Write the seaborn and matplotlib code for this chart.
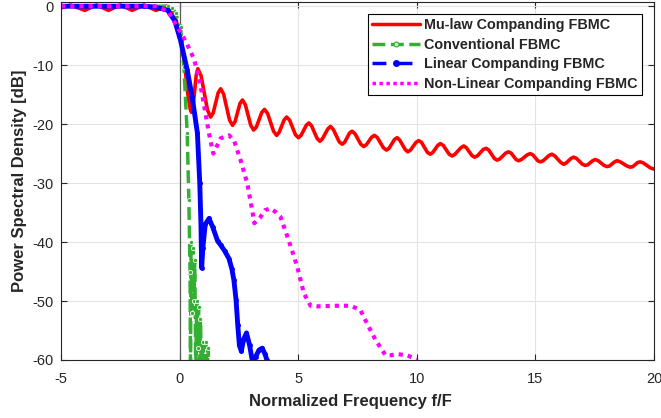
import numpy as np
import pandas as pd
import matplotlib
matplotlib.use("Agg")
import matplotlib.pyplot as plt
from matplotlib.lines import Line2D
import seaborn as sns

# Mu-law companding FBMC: passband ripple, roll-off, then sidelobes
# (peaks, troughs and the shoulder points read between them)
mulaw_f = [-5.0, -4.6, -4.0, -3.5, -3.0, -2.5, -2.0, -1.5, -1.0, -0.5, -0.25, 0.0, 0.2, 0.35, 0.45,
           0.5, 0.57, 0.70, 0.77, 0.905, 1.175, 1.31, 1.415, 1.625, 1.73, 1.855, 2.105, 2.23, 2.335, 2.545,
           2.65, 2.77, 3.00, 3.12, 3.235, 3.465, 3.58, 3.71, 3.96, 4.09, 4.195, 4.405, 4.51, 4.635, 4.885,
           5.01, 5.12, 5.34, 5.45, 5.565, 5.795, 5.91, 6.02, 6.25, 6.36, 6.48, 6.73, 6.85, 6.955, 7.165,
           7.27, 7.39, 7.64, 7.76, 7.87, 8.10, 8.21, 8.34, 8.59, 8.72, 8.83, 9.06, 9.17, 9.28, 9.51,
           9.62, 9.735, 9.965, 10.08, 10.2, 10.45, 10.57, 10.675, 10.885, 10.99, 11.115, 11.365, 11.49, 11.61, 11.86,
           11.98, 12.09, 12.32, 12.43, 12.55, 12.80, 12.92, 13.035, 13.265, 13.38, 13.5, 13.75, 13.87, 13.975, 14.185,
           14.29, 14.41, 14.66, 14.78, 14.89, 15.10, 15.21, 15.33, 15.58, 15.70, 15.82, 16.07, 16.19, 16.295, 16.505,
           16.61, 16.73, 16.98, 17.10, 17.205, 17.415, 17.52, 17.645, 17.895, 18.02, 18.125, 18.335, 18.44, 18.58, 18.86,
           19.0, 19.105, 19.315, 19.42, 19.56, 19.84, 19.98, 20.0]
mulaw_db = [-0.3, 0.2, -0.7, 0.2, -0.7, 0.2, -0.7, 0.2, -0.7, 0.1, -1.0, -4.5, -9.5, -15.0, -17.5,
            -18.0, -16.9, -11.7, -10.6, -11.8, -17.6, -18.8, -18.1, -14.7, -14.0, -14.9, -19.3, -20.2, -19.6, -16.5,
            -15.9, -16.7, -20.2, -21.0, -20.5, -18.0, -17.5, -18.2, -21.2, -21.9, -21.4, -19.3, -18.8, -19.3, -21.8,
            -22.3, -21.9, -20.2, -19.8, -20.3, -22.4, -22.9, -22.5, -20.8, -20.4, -20.9, -23.0, -23.4, -23.1, -21.5,
            -21.2, -21.6, -23.4, -23.8, -23.5, -22.2, -21.9, -22.3, -24.0, -24.4, -24.1, -22.6, -22.3, -22.7, -24.3,
            -24.7, -24.4, -23.1, -22.8, -23.1, -24.8, -25.1, -24.8, -23.6, -23.3, -23.6, -25.1, -25.4, -25.1, -24.0,
            -23.7, -24.0, -25.3, -25.6, -25.4, -24.3, -24.1, -24.4, -25.8, -26.1, -25.9, -24.9, -24.7, -24.9, -26.0,
            -26.2, -26.0, -25.2, -25.0, -25.2, -26.2, -26.4, -26.2, -25.3, -25.1, -25.4, -26.5, -26.8, -26.6, -25.8,
            -25.6, -25.8, -26.8, -27.0, -26.9, -26.2, -26.0, -26.2, -27.0, -27.2, -27.1, -26.4, -26.2, -26.4, -27.1,
            -27.3, -27.2, -26.5, -26.4, -26.6, -27.4, -27.6, -27.6]

# Conventional FBMC
conv_f = [-5.0, -1.0, -0.5, -0.3, -0.17, 0.04, 0.18, 0.32, 0.39, 0.44, 0.46,
          0.48, 0.52, 0.56, 0.60, 0.64, 0.68, 0.72, 0.76, 0.80, 0.84, 0.88, 0.92, 0.98, 1.04, 1.10, 1.16, 1.20, 1.24]
conv_db = [0.0, 0.0, 0.0, -0.3, -1.2, -3.5, -10.3, -21.5, -32.9, -45.0, -62.0,
           -40.0, -52.0, -41.0, -50.0, -43.0, -62.0, -50.0, -58.0, -51.0, -62.0, -53.0, -62.0, -57.0, -62.0, -57.0, -62.0, -58.0, -62.0]

# Linear companding FBMC
lin_f = [-5.0, -1.5, -1.0, -0.5, -0.2, 0.04, 0.32, 0.53, 0.75, 0.85, 0.90, 0.93, 0.98, 1.08, 1.24, 1.40,
         1.60, 1.73, 1.90, 2.08, 2.20, 2.29, 2.38, 2.45, 2.52, 2.60, 2.70, 2.82, 2.95, 3.06, 3.20, 3.35,
         3.48, 3.60, 3.68]
lin_db = [0.0, 0.0, -0.15, -0.7, -2.5, -5.8, -10.8, -15.4, -21.5, -30.0, -37.0, -44.4, -41.0, -37.0, -36.0, -37.5,
          -39.8, -40.5, -41.5, -42.8, -44.5, -46.5, -49.8, -54.0, -57.5, -58.5, -56.5, -55.4, -57.5, -60.0, -59.5, -58.3,
          -58.0, -59.0, -60.0]

# Non-linear companding FBMC
nonlin_f = [-5.0, -1.0, -0.5, -0.2, 0.1, 0.3, 0.6, 0.81, 1.02, 1.24, 1.42, 1.6, 1.73, 2.08, 2.29, 2.57,
            2.85, 3.06, 3.15, 3.4, 3.6, 3.83, 4.05, 4.25, 4.6, 4.96, 5.24, 5.52, 5.8, 6.64, 7.2, 7.62,
            7.9, 8.26, 8.68, 8.9, 9.17, 9.59, 10.0]
nonlin_db = [0.0, 0.0, -0.8, -2.8, -4.8, -6.3, -8.9, -12.0, -16.5, -21.6, -25.0, -23.5, -22.4, -21.9, -22.7, -26.1,
             -30.0, -34.6, -36.8, -35.8, -34.6, -34.3, -34.9, -35.7, -39.7, -44.2, -48.7, -50.8, -50.9, -50.8, -50.8, -51.5,
             -53.8, -56.6, -59.2, -59.2, -59.0, -59.2, -59.9]

labels = ["Mu-law Companding FBMC", "Conventional FBMC",
          "Linear Companding FBMC", "Non-Linear Companding FBMC"]
x_ticks = [-5, 0, 5, 10, 15, 20]
y_ticks = [-60, -50, -40, -30, -20, -10, 0]

sns.set_theme(style="whitegrid")
plt.rcParams['font.family'] = ['Liberation Sans', 'DejaVu Sans']
plt.rcParams['axes.unicode_minus'] = False

red, green, blue, magenta = "#ff0000", "#33b033", "#0000ff", "#ff00ff"
ink = "#262626"

fig = plt.figure(figsize=(6.61, 4.18), dpi=100)
ax = fig.add_axes([0.0923, 0.1388, 0.8971, 0.8576])

sns.lineplot(x=mulaw_f, y=mulaw_db, ax=ax, color=red, lw=2.6, estimator=None, sort=False)
sns.lineplot(x=conv_f, y=conv_db, ax=ax, color=green, lw=2.5, estimator=None, sort=False,
             linestyle="--", marker="o", markersize=3, markeredgewidth=0.6, dashes=False)
sns.lineplot(x=lin_f, y=lin_db, ax=ax, color=blue, lw=3.5, estimator=None, sort=False,
             marker=".", markersize=7, markeredgewidth=0)
sns.lineplot(x=nonlin_f, y=nonlin_db, ax=ax, color=magenta, lw=3.0, estimator=None, sort=False,
             linestyle=(0, (1, 1.2)))
ax.axvline(0, color="#5a5a5a", lw=0.9, zorder=1.5)

ax.set_xlim(-5, 20)
ax.set_ylim(-60, 0.8)
ax.set_xticks(x_ticks)
ax.set_yticks(y_ticks)
ax.grid(True, color="#e3e3e3", lw=0.8)
for s in ax.spines.values():
    s.set_color(ink)
    s.set_linewidth(0.8)
ax.tick_params(direction="in", length=4, width=0.8, color=ink, labelcolor=ink,
               labelsize=10.5, top=True, right=True, bottom=True, left=True)
ax.tick_params(axis="x", pad=9)
ax.tick_params(axis="y", pad=5)
ax.set_xlabel("Normalized Frequency f/F", fontsize=12, fontweight="bold", color=ink, labelpad=7)
ax.xaxis.set_label_coords(0.488, -0.095)
ax.set_ylabel("Power Spectral Density [dB]", fontsize=12, fontweight="bold", color=ink, labelpad=4)

handles = [
    Line2D([], [], color=red, lw=2.5),
    Line2D([], [], color=green, lw=2.5, linestyle="--", marker="o", markersize=3.5,
           markerfacecolor="#c8ecc8", markeredgewidth=0.8),
    Line2D([], [], color=blue, lw=2.5, linestyle=(0, (4, 3.5)), marker=".", markersize=8),
    Line2D([], [], color=magenta, lw=2.5, linestyle=(0, (1, 1))),
]
leg = ax.legend(handles, labels, loc="upper right", bbox_to_anchor=(0.98, 0.965),
                prop={"weight": "bold", "size": 10.4}, frameon=True, fancybox=False,
                edgecolor="#000000", framealpha=1, handlelength=3.3, handletextpad=0.3,
                labelspacing=0.38, borderpad=0.3, borderaxespad=0)
leg.get_frame().set_linewidth(0.8)

fig.savefig("out.png", dpi=100)
